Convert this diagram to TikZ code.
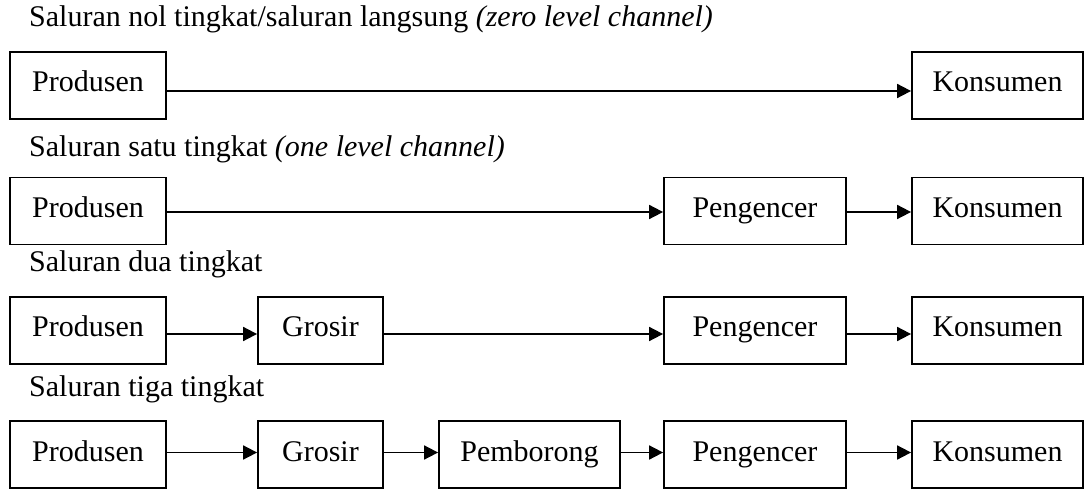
\documentclass[tikz,border=0pt]{standalone}
\usepackage{fontspec}
\setmainfont{Liberation Serif}
\usetikzlibrary{arrows.meta}
\begin{document}
\begin{tikzpicture}[x=1pt,y=-1pt,
  font=\fontsize{30}{36}\selectfont,
  box/.style={draw, line width=1.8pt, minimum height=67pt, inner sep=0pt,
    text height=21pt, text depth=8pt},
  title/.style={anchor=base west, inner sep=0pt},
  arr/.style={line width=1.8pt, -{Triangle[length=14pt,width=14pt]}}]
\useasboundingbox (0,0) rectangle (1085,489);
% row 1
\node[title] (t1) at (29,27) {Saluran nol tingkat/saluran langsung \textit{(zero level channel)}};
\node[box, minimum width=156pt] (p1) at (88,85.5) {Produsen};
\node[box, minimum width=171pt] (k1) at (997.5,85.5) {Konsumen};
\draw[arr] ([yshift=-5.5pt]p1.east) -- ([yshift=-5.5pt]k1.west);
% row 2
\node[title] (t2) at (29,157) {Saluran satu tingkat \textit{(one level channel)}};
\node[box, minimum width=156pt] (p2) at (88,211) {Produsen};
\node[box, minimum width=182pt] (g2) at (755,211) {Pengencer};
\node[box, minimum width=171pt] (k2) at (997.5,211) {Konsumen};
\draw[arr] ([yshift=-1pt]p2.east) -- ([yshift=-1pt]g2.west);
\draw[arr] ([yshift=-1pt]g2.east) -- ([yshift=-1pt]k2.west);
% row 3
\node[title] (t3) at (29,272) {Saluran dua tingkat};
\node[box, minimum width=156pt] (p3) at (88,330.5) {Produsen};
\node[box, minimum width=125pt] (r3) at (320.5,330.5) {Grosir};
\node[box, minimum width=182pt] (g3) at (755,330.5) {Pengencer};
\node[box, minimum width=171pt] (k3) at (997.5,330.5) {Konsumen};
\draw[arr] ([yshift=-3.5pt]p3.east) -- ([yshift=-3.5pt]r3.west);
\draw[arr] ([yshift=-3.5pt]r3.east) -- ([yshift=-3.5pt]g3.west);
\draw[arr] ([yshift=-3.5pt]g3.east) -- ([yshift=-3.5pt]k3.west);
% row 4
\node[title] (t4) at (29,396) {Saluran tiga tingkat};
\node[box, minimum width=156pt] (p4) at (88,454.5) {Produsen};
\node[box, minimum width=125pt] (r4) at (320.5,454.5) {Grosir};
\node[box, minimum width=181pt] (b4) at (529.5,454.5) {Pemborong};
\node[box, minimum width=182pt] (g4) at (755,454.5) {Pengencer};
\node[box, minimum width=171pt] (k4) at (997.5,454.5) {Konsumen};
\draw[arr] ([yshift=2pt]p4.east) -- ([yshift=2pt]r4.west);
\draw[arr] ([yshift=2pt]r4.east) -- ([yshift=2pt]b4.west);
\draw[arr] ([yshift=2pt]b4.east) -- ([yshift=2pt]g4.west);
\draw[arr] ([yshift=2pt]g4.east) -- ([yshift=2pt]k4.west);
\end{tikzpicture}
\end{document}
